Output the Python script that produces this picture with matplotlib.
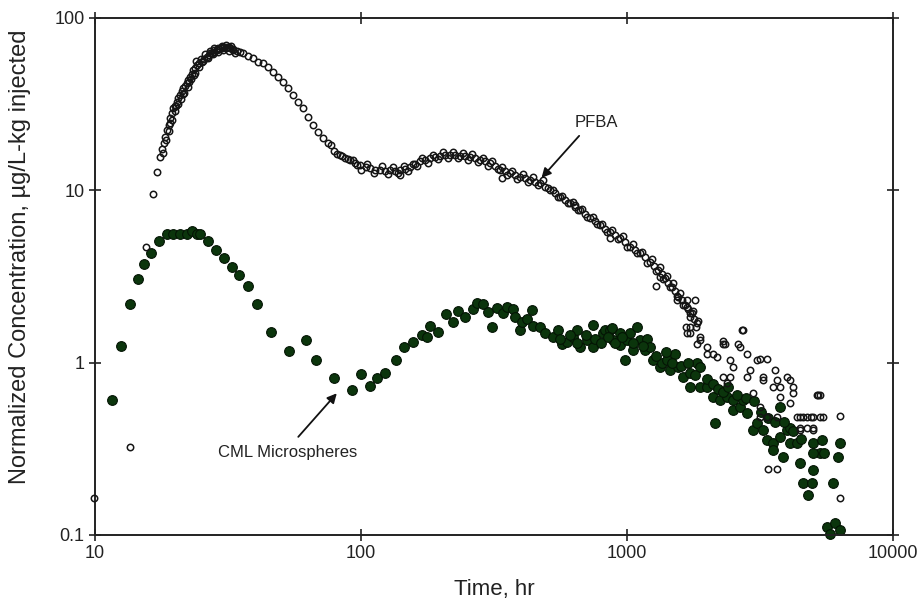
import numpy as np
import matplotlib
matplotlib.use("Agg")
import matplotlib.pyplot as plt
from matplotlib.ticker import FixedLocator, FixedFormatter, NullLocator

plt.rcParams['font.family'] = ['Liberation Sans', 'DejaVu Sans']

# PFBA tracer (open circles), time in hr and normalized concentration
pfba_t = [9.9, 13.5, 15.5, 16.5, 17.1, 17.5, 17.8, 18.1, 18.3, 18.6, 18.9, 19.1, 19.4, 19.7,
          20.0, 20.3, 20.6, 20.9, 21.2, 21.5, 21.8, 22.1, 22.4, 22.8, 23.1, 23.4, 23.7, 24.1,
          24.6, 25.2, 25.7, 26.3, 26.9, 27.5, 28.1, 28.7, 29.3, 29.9, 30.6, 31.3, 32.2, 33.0,
          34.1, 35.0, 36.1, 37.7, 39.4, 41.1, 42.9, 44.8, 46.8, 48.9, 51.1, 53.3, 55.6, 58.1,
          60.7, 63.4, 66.2, 69.1, 72.1, 75.4, 79, 83.3, 87, 90.9, 95, 99.1, 104, 108, 113, 118,
          123, 128, 134, 140, 146, 153, 160, 167, 174, 182, 190, 198, 207, 216, 226, 236, 246,
          257, 268, 280, 292, 305, 319, 333, 348, 363, 379, 396, 414, 432, 451, 471, 492, 514,
          537, 560, 585, 611, 638, 666, 695, 726, 758, 791, 826, 863, 902, 942, 983, 1026, 1072,
          1119, 1168, 1220, 1265, 1311, 1350, 1390, 1430, 1472, 1515, 1560, 1605, 1652, 1700,
          1750, 1790, 1828, 1881,
          # band edges
          18.0, 18.5, 19.0, 19.5, 20.0, 20.5, 21.0, 21.6, 22.3, 23.0, 23.8, 24.5, 25.5, 26.6,
          27.8, 29.0, 30.2, 31.8, 33.5, 24.0, 25.0, 27.0, 28.0, 30.0, 31.0, 32.5,
          26.0, 27.0, 28.0, 29.0, 30.0, 31.0, 32.0, 33.0, 19.2, 20.2, 21.4, 22.6, 23.5,
          77, 81, 85, 89, 93, 97,
          100, 105, 112, 120, 126, 132, 138, 145, 150, 157, 163, 170, 178, 186, 195, 203, 212,
          222, 232, 242, 252, 262, 275, 287, 300, 312, 326, 340, 355, 370, 387, 405, 423, 442,
          461, 482, 503, 525, 548, 572, 598, 624, 652, 680, 710, 742, 774, 808, 844, 882, 922,
          962, 1004, 1049, 1095, 1143, 1194, 1245, 1288, 1330, 1370, 1410, 1450, 1493, 1537,
          1582, 1630, 1676, 1725, 1770, 1810, 1850,
          # scattered / tail
          140, 340, 640, 863, 1291, 1668, 1800, 2290,
          1330, 1538, 1726, 1676, 1829, 1992, 2173, 2333, 2370, 2510, 2660, 2736, 2818, 3073,
          3252, 2985, 3162, 3350, 3548, 3758, 3655, 3981, 4217, 4100, 4467, 4731, 5012, 5309,
          4467, 5012, 5238, 3400, 3655, 6324,
          1676, 1726, 1726, 1881, 1992, 2110, 2300, 2700, 2620, 2818, 2440, 2300, 2440, 2900,
          3162, 3350, 3252, 3600, 3758, 4100, 4217, 3162, 3350, 3655, 4345, 4600, 4900, 5480,
          4467, 4731, 5012, 5160, 5309, 6300]
pfba_c = [0.163, 0.325, 4.67, 9.5, 12.8, 15.7, 17.3, 18.7, 20.5, 22.4, 23.9, 26.2, 28.0, 29.9,
          31.0, 32.7, 34.5, 35.7, 37.5, 39.1, 40.5, 41.8, 43.5, 45.6, 47.5, 49.9, 51.5, 53.3,
          54.5, 55.8, 57.5, 59.6, 61.0, 62.3, 63.8, 65.2, 66.0, 66.6, 67.5, 68.1, 66.6, 66.0,
          64.6, 63.5, 62.3, 60.1, 58.3, 55.8, 54.6, 51.8, 48.8, 45.6, 42.7, 39.1, 35.7, 32.7,
          29.9, 26.8, 23.9, 21.9, 20.0, 18.7, 17.0, 16.0, 15.4, 15.0, 14.4, 14.0, 13.6, 13.4,
          13.2, 13.1, 13.0, 13.1, 13.0, 13.1, 13.3, 13.7, 14.2, 14.7, 15.0, 15.3, 15.6, 15.8,
          16.0, 16.0, 16.0, 15.9, 15.8, 15.7, 15.4, 15.0, 14.7, 14.4, 13.8, 13.1, 12.9, 12.6,
          12.3, 12.0, 11.8, 11.5, 11.2, 11.0, 10.5, 10.0, 9.6, 9.18, 8.8, 8.40, 8.0, 7.69, 7.3,
          6.88, 6.6, 6.29, 6.0, 5.75, 5.5, 5.26, 5.0, 4.71, 4.5, 4.31, 4.1, 3.85, 3.65, 3.45,
          3.25, 3.08, 2.9, 2.76, 2.6, 2.41, 2.3, 2.16, 2.05, 1.93, 1.8, 1.69, 1.41,
          16.5, 19.5, 22.0, 25.5, 29.0, 31.5, 34.0, 36.5, 40.0, 44.0, 48.0, 52.0, 56.5, 58.5,
          61.5, 63.5, 65.0, 64.5, 62.5, 56.0, 58.0, 63.0, 66.5, 69.0, 70.0, 69.0,
          62.0, 64.0, 65.0, 67.0, 67.5, 67.0, 67.5, 65.0, 24.5, 31.0, 36.0, 42.5, 46.5,
          18.2, 16.3, 15.9, 15.1, 14.9, 14.1,
          13.2, 14.2, 12.6, 13.8, 12.5, 13.6, 12.6, 13.8, 12.9, 14.3, 13.9, 15.4, 14.4, 16.0,
          15.1, 16.6, 15.3, 16.6, 15.3, 16.5, 15.0, 16.2, 14.6, 15.4, 13.9, 14.8, 13.3, 13.6,
          12.3, 13.0, 11.7, 12.4, 11.2, 11.9, 10.7, 11.4, 10.3, 10.1, 9.2, 9.3, 8.4, 8.5, 7.7,
          7.8, 7.0, 7.0, 6.4, 6.4, 5.7, 5.9, 5.2, 5.4, 4.7, 4.9, 4.3, 4.4, 3.8, 4.0, 3.4, 3.6,
          3.05, 3.2, 2.75, 2.9, 2.45, 2.55, 2.15, 2.3, 1.95, 2.0, 1.6, 1.75,
          12.3, 11.8, 8.2, 5.3, 2.8, 1.61, 2.3, 1.33,
          3.16, 2.31, 1.85, 1.48, 1.29, 1.13, 1.08, 1.29, 0.759, 0.946, 1.24, 1.55, 0.83, 1.03,
          0.83, 0.664, 0.555, 0.486, 0.725, 0.634, 0.792, 0.83, 0.725, 0.58, 0.486, 0.486,
          0.486, 0.486, 0.407, 0.407, 0.649, 0.243, 0.243, 0.163,
          2.11, 1.61, 1.48, 1.35, 1.24, 1.13, 1.29, 1.55, 1.29, 1.13, 1.03, 0.83, 0.83, 0.905,
          1.05, 1.05, 0.79, 0.905, 0.725, 0.79, 0.664, 0.486, 0.486, 0.486, 0.486, 0.486,
          0.486, 0.486, 0.415, 0.415, 0.415, 0.649, 0.649, 0.49]

# CML microspheres (filled green circles)
cml_t = [11.55, 12.5, 13.5, 14.5, 15.3, 16.3, 17.4, 18.7, 19.7, 20.9, 22.1, 23.1, 24.1, 24.9,
         26.7, 28.5, 30.6, 32.6, 34.8, 37.5, 40.5, 45.9, 53.6, 62.1, 67.7, 79.1, 92.2, 100,
         108, 115, 123, 135, 145.5, 157, 169, 177, 182, 195, 209, 221, 232, 246, 264, 272, 288,
         301, 310, 324, 343, 353, 374, 379, 396, 402, 420, 438, 444, 471, 492, 529, 552, 568,
         593, 628, 647, 666, 705, 747, 747, 814, 826, 863, 876, 889, 942, 942, 983, 998, 1026,
         1056, 1087, 1119, 1169, 1186, 1220, 1256, 1330, 1349, 1409, 1452, 1514, 1560, 1629,
         1726, 1726, 1829, 1881, 1881, 1992, 2110, 2143, 2238, 2370, 2510, 2510, 2660, 2736,
         2818, 2985, 3073, 3252, 3350, 3548, 3548, 3758, 3758, 3870, 3981, 4100, 4100, 4345,
         4467, 4600, 4808, 4943, 5012, 5012, 5309, 5395, 5636, 5790, 5970, 6053, 6224, 6324,
         6324,
         560, 610, 650, 700, 760, 800, 850, 900, 960, 1050, 1150, 1280, 1400, 1480, 1600, 1700,
         1800, 2000, 2100, 2200, 2300, 2400, 2600, 2800, 3000, 3200, 3400, 3600, 3900, 4200,
         4500, 5000, 5500]
cml_c = [0.607, 1.25, 2.18, 3.04, 3.73, 4.35, 5.09, 5.56, 5.56, 5.56, 5.6, 5.8, 5.6, 5.55,
         5.06, 4.5, 4.03, 3.61, 3.22, 2.79, 2.18, 1.51, 1.17, 1.36, 1.03, 0.817, 0.694, 0.855,
         0.731, 0.82, 0.87, 1.03, 1.24, 1.32, 1.45, 1.40, 1.63, 1.50, 1.91, 1.73, 2.0, 1.85,
         2.04, 2.23, 2.19, 1.96, 1.61, 2.08, 1.93, 2.11, 2.04, 1.85, 1.54, 1.73, 1.78, 2.02,
         1.63, 1.61, 1.48, 1.41, 1.54, 1.29, 1.32, 1.41, 1.55, 1.24, 1.35, 1.65, 1.24, 1.48,
         1.55, 1.55, 1.58, 1.35, 1.26, 1.48, 1.03, 1.35, 1.48, 1.18, 1.61, 1.35, 1.18, 1.38,
         1.24, 1.03, 0.946, 0.99, 1.03, 0.905, 1.13, 0.946, 0.83, 0.867, 0.725, 0.99, 0.946,
         0.725, 0.725, 0.634, 0.445, 0.607, 0.634, 0.607, 0.531, 0.555, 0.607, 0.508, 0.407,
         0.445, 0.407, 0.356, 0.34, 0.311, 0.371, 0.555, 0.284, 0.407, 0.34, 0.42, 0.34, 0.26,
         0.199, 0.17, 0.199, 0.34, 0.238, 0.298, 0.356, 0.112, 0.102, 0.199, 0.117, 0.284,
         0.34, 0.107,
         1.38, 1.45, 1.30, 1.45, 1.38, 1.30, 1.40, 1.30, 1.40, 1.30, 1.25, 1.10, 1.15, 1.0,
         0.95, 1.0, 0.85, 0.80, 0.75, 0.70, 0.68, 0.72, 0.65, 0.62, 0.60, 0.52, 0.48, 0.45,
         0.45, 0.40, 0.36, 0.30, 0.30]

x_ticks = [10, 100, 1000, 10000]
x_labels = ["10", "100", "1000", "10000"]
y_ticks = [0.1, 1, 10, 100]
y_labels = ["0.1", "1", "10", "100"]

fig = plt.figure(figsize=(9.17, 6.11), dpi=100)
ax = fig.add_axes([0.1036, 0.1244, 0.8702, 0.8462])

ax.plot(cml_t, cml_c, linestyle='none', marker='o', ms=7.0,
        mfc='#0b350c', mec='#041404', mew=0.8, clip_on=False, zorder=2)
ax.plot(pfba_t, pfba_c, linestyle='none', marker='o', ms=4.6,
        mfc='none', mec='#151515', mew=1.1, clip_on=False, zorder=3)

ax.set_xscale('log')
ax.set_yscale('log')
ax.set_xlim(10, 10000)
ax.set_ylim(0.1, 100)

ax.xaxis.set_major_locator(FixedLocator(x_ticks))
ax.xaxis.set_major_formatter(FixedFormatter(x_labels))
ax.yaxis.set_major_locator(FixedLocator(y_ticks))
ax.yaxis.set_major_formatter(FixedFormatter(y_labels))
ax.xaxis.set_minor_locator(NullLocator())
ax.yaxis.set_minor_locator(NullLocator())

ax.tick_params(direction='inout', length=9, width=1.2, labelsize=13, colors='#222222',
               top=True, right=True, pad=3)
for s in ax.spines.values():
    s.set_linewidth(1.4)
    s.set_color('#222222')

ax.set_xlabel("Time, hr", fontsize=16, color='#222222')
ax.set_ylabel("Normalized Concentration, µg/L-kg injected", fontsize=17, color='#222222')
ax.xaxis.set_label_coords(0.5, -0.085)
ax.yaxis.set_label_coords(-0.080, 0.538)

# annotations
arrow = dict(arrowstyle='-|>', color='#111111', lw=1.3, mutation_scale=14, shrinkA=0, shrinkB=0)
ax.annotate('', xy=(477, 11.8), xytext=(661, 20.7), arrowprops=arrow)
ax.text(764, 24.6, "PFBA", fontsize=12, color='#222222', ha='center', va='center')
ax.annotate('', xy=(81.1, 0.664), xytext=(58.1, 0.371), arrowprops=arrow)
ax.text(53.2, 0.303, "CML Microspheres", fontsize=12, color='#222222', ha='center', va='center')

plt.savefig('out.png', dpi=100)
